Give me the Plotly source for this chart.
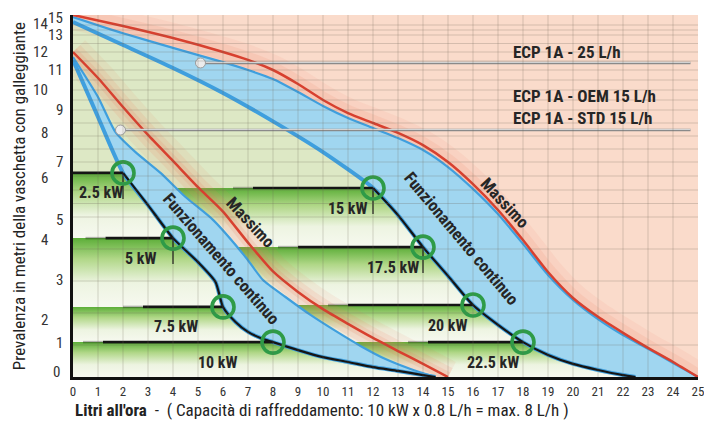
import numpy as np
import plotly.graph_objects as go

# ---------------- data (flow in L/h, head in metres) ----------------
# small pump family (ECP 1A - OEM / STD 15 L/h)
FLOW_MAX_A = [0, 1, 2, 3, 4, 5, 6, 7, 8, 9, 10, 11, 12, 13, 14, 15]
HEAD_MAX_A = [12.0, 10.6, 9.15, 8.04, 7.04, 6.1, 5.2, 4.2, 3.3, 2.66, 2.12, 1.66, 1.22, 0.81, 0.41, 0]
FLOW_CONT_TOP_A = [0, 1, 1.7, 2.5, 3.5, 4.5, 5.6, 6.9, 7.6, 8.5, 9.5, 10.5, 11.5, 12.5, 13.5, 14.5]
HEAD_CONT_TOP_A = [11.72, 9.65, 8.15, 7.38, 6.61, 5.74, 4.91, 3.75, 3.03, 2.5, 1.94, 1.44, 0.97, 0.56, 0.25, 0]
FLOW_CONT_A = [0, 1, 2, 3, 4, 5, 5.7, 6, 6.5, 7, 7.5, 8, 9, 10, 11, 12, 13, 14, 14.5]
HEAD_CONT_A = [11.56, 8.73, 6.61, 5.44, 4.34, 3.59, 2.97, 2.19, 1.72, 1.41, 1.22, 1.09, 0.84, 0.62, 0.47, 0.31, 0.19, 0.06, 0]

# big pump family (ECP 1A - 25 L/h)
FLOW_MAX_B = [0, 2, 4, 6, 7, 8, 9, 10, 11, 12, 13, 14, 15, 16, 17, 18, 19, 20, 21, 22, 23, 24, 25]
HEAD_MAX_B = [15, 13.9, 12.82, 12.0, 11.56, 11.0, 10.3, 9.5, 8.88, 8.5, 8.12, 7.65, 7.0, 6.21, 5.26, 4.28, 3.28, 2.47, 1.88, 1.38, 0.91, 0.47, 0]
FLOW_CONT_TOP_B = [0, 2, 4, 6, 7, 8, 9, 10, 11, 12, 13, 14, 15, 16, 17, 18, 19, 20, 21, 22, 23, 24, 25]
HEAD_CONT_TOP_B = [14.8, 13.17, 12.24, 11.44, 11.0, 10.55, 9.9, 9.2, 8.69, 8.31, 7.92, 7.46, 6.82, 6.04, 5.11, 4.16, 3.19, 2.41, 1.81, 1.31, 0.88, 0.44, 0]
FLOW_CONT_B = [0, 2, 4, 6, 7.9, 10, 12, 13, 14, 15, 16, 17, 18, 19, 20, 21, 22, 22.5]
HEAD_CONT_B = [14.3, 12.41, 11.11, 9.85, 8.62, 7.38, 6.07, 5.07, 4.06, 3.16, 2.25, 1.63, 1.09, 0.69, 0.41, 0.22, 0.06, 0]

# cooling-power operating points
POWER_LABELS = ["2.5 kW", "5 kW", "7.5 kW", "10 kW", "15 kW", "17.5 kW", "20 kW", "22.5 kW"]
POWER_FLOW = [2, 4, 6, 8, 12, 14, 16, 18]
POWER_HEAD = [6.61, 4.34, 2.19, 1.09, 6.07, 4.06, 2.25, 1.09]
POWER_FAMILY = ["A", "A", "A", "A", "B", "B", "B", "B"]
STEP_START_FLOW = [0, 1.3, 2.8, 1.2, 7.2, 9.0, 11.0, 14.2]
DROP_MARK = [True, True, False, False, True, True, False, False]

# pump model leaders
MODEL_LABELS = ["ECP 1A - 25 L/h", "ECP 1A - OEM 15 L/h", "ECP 1A - STD 15 L/h"]
LEADER_FLOW = [5.1, 1.9]
LEADER_HEAD = [11.39, 8.23]

# axis ticks
X_TICKS = list(range(0, 26))
HEAD_TICKS = list(range(0, 16))

# ---------------- layout / style helpers ----------------
# vertical scale of the original (non-uniform spacing of head labels)
HEAD_POS = [0, 32, 64, 96, 128, 160, 187, 215, 241, 267, 287, 307, 325, 342, 352, 362]
LABEL_YSHIFT = [5, 2, -7, 1, 9, -3, 12, 0, 3, 0, 0, 0, 0, 0, 1, -3]
LABEL_XSHIFT = [-11, -8, -23, -8, -23, -8, -23, -8, -23, -8, -23, -8, -23, -8, -23, -8]
KW_LABEL_FLOW = [1.1, 2.7, 4.1, 5.8, 11.0, 12.8, 15.0, 16.8]
MODEL_LABEL_FLOW = 17.5
MODEL_LABEL_HEAD = [12.0, 9.7, 8.69]
LEADER_END = 24.7

FONT = "Liberation Sans Narrow, Arial Narrow, Roboto Condensed, DejaVu Sans Condensed, Roboto, sans-serif"
PEACH = "#FADBCB"
BLUE_FILL = "#A0D6F0"
BLUE_LINE = "#3F9FDE"
RED_LINE = "#D8402F"
GREEN_RING = "#2E9B47"
BG_GREEN = "#DDE8C5"
TXT = "#262626"


def Y(h):
    return np.interp(np.asarray(h, dtype=float), HEAD_TICKS, HEAD_POS)


fig = go.Figure()


def add_poly(xs, ys, **kw):
    fig.add_trace(go.Scatter(x=xs, y=ys, mode="lines", fill="toself", line=dict(width=0),
                             hoverinfo="skip", **kw))


def add_line(xs, ys, color, width):
    fig.add_trace(go.Scatter(x=xs, y=ys, mode="lines",
                             line=dict(color=color, width=width, shape="spline", smoothing=0.6),
                             hoverinfo="skip"))


def band_polygon(flow, head, top, bottom, x_left):
    f = np.array(flow, float)
    h = np.array(head, float)
    x_top = np.interp(top, h[::-1], f[::-1])
    x_bot = np.interp(bottom, h[::-1], f[::-1])
    m = (h < top) & (h > bottom)
    xs = [x_left, x_top] + list(f[m]) + [x_bot, x_left]
    hs = [top, top] + list(h[m]) + [bottom, bottom]
    return xs, Y(hs)


GREEN_SCALE = [[0, "#F7F9F0"], [0.35, "#EDF4E1"], [0.7, "#B0D787"], [1, "#5CAE38"]]

# peach region above the 25 L/h continuous band
add_poly(FLOW_CONT_TOP_B + [25, 0], list(Y(HEAD_CONT_TOP_B)) + [Y(15), Y(15)], fillcolor=PEACH)
for w, a in [(30, 0.08), (16, 0.12)]:
    add_line(FLOW_MAX_B, Y(HEAD_MAX_B), f"rgba(238,120,90,{a})", w)

# green step bands
for fam, flow, head in [("B", FLOW_CONT_B, HEAD_CONT_B), ("A", FLOW_CONT_A, HEAD_CONT_A)]:
    idx = [i for i, f in enumerate(POWER_FAMILY) if f == fam]
    for j, i in enumerate(idx):
        top = POWER_HEAD[i]
        bottom = POWER_HEAD[idx[j + 1]] if j + 1 < len(idx) else 0
        xs, ys = band_polygon(flow, head, top, bottom, 0)
        add_poly(xs, ys, fillgradient=dict(type="vertical", colorscale=GREEN_SCALE))

# glow around the small pump maximum curve
for w, a in [(34, 0.09), (20, 0.13), (10, 0.15)]:
    add_line(FLOW_MAX_A, Y(HEAD_MAX_A), f"rgba(238,120,90,{a})", w)

# continuous-operation bands
add_poly(FLOW_CONT_TOP_B + FLOW_CONT_B[::-1], list(Y(HEAD_CONT_TOP_B)) + list(Y(HEAD_CONT_B[::-1])), fillcolor=BLUE_FILL)
add_poly(FLOW_CONT_TOP_A + FLOW_CONT_A[::-1], list(Y(HEAD_CONT_TOP_A)) + list(Y(HEAD_CONT_A[::-1])), fillcolor=BLUE_FILL)

# curve edges
add_line(FLOW_CONT_TOP_B, Y(HEAD_CONT_TOP_B), BLUE_LINE, 2.2)
add_line(FLOW_CONT_TOP_A, Y(HEAD_CONT_TOP_A), BLUE_LINE, 2.2)
add_line(FLOW_CONT_B, Y(HEAD_CONT_B), BLUE_LINE, 4)
add_line(FLOW_CONT_A, Y(HEAD_CONT_A), BLUE_LINE, 4)
add_line(FLOW_MAX_B, Y(HEAD_MAX_B), RED_LINE, 2.5)
add_line(FLOW_MAX_A, Y(HEAD_MAX_A), RED_LINE, 2.5)

for flow, head, start in [(FLOW_CONT_A, HEAD_CONT_A, POWER_FLOW[0]), (FLOW_CONT_B, HEAD_CONT_B, POWER_FLOW[4])]:
    f = np.array(flow)
    m = f >= start
    add_line(list(f[m]), Y(np.array(head)[m]), "#151515", 2.2)

# horizontal step lines (+ small drop marks under some rings)
for x0, x1, h, drop in zip(STEP_START_FLOW, POWER_FLOW, POWER_HEAD, DROP_MARK):
    yy = float(Y(h))
    fig.add_trace(go.Scatter(x=[x0 - 0.8, x0], y=[yy, yy], mode="lines",
                             line=dict(color="rgba(20,20,20,0.3)", width=2.5), hoverinfo="skip"))
    fig.add_trace(go.Scatter(x=[x0, x1], y=[yy, yy], mode="lines",
                             line=dict(color="#151515", width=2.6), hoverinfo="skip"))
    if drop:
        fig.add_trace(go.Scatter(x=[x1, x1], y=[yy, yy - 26], mode="lines",
                                 line=dict(color="rgba(20,20,20,0.75)", width=1.6), hoverinfo="skip"))

# model leader lines
for f, h in zip(LEADER_FLOW, LEADER_HEAD):
    yy = float(Y(h))
    fig.add_trace(go.Scatter(x=[f, LEADER_END], y=[yy, yy], mode="lines",
                             line=dict(color="#8a8a8a", width=2.6), hoverinfo="skip"))
    fig.add_trace(go.Scatter(x=[f, LEADER_END], y=[yy + 0.6, yy + 0.6], mode="lines",
                             line=dict(color="#dcdcdc", width=1), hoverinfo="skip"))
fig.add_trace(go.Scatter(x=LEADER_FLOW, y=Y(LEADER_HEAD), mode="markers",
                         marker=dict(size=10, color="#ececec", line=dict(color="#9a9a9a", width=1)),
                         hoverinfo="skip"))

# operating point rings
fig.add_trace(go.Scatter(x=POWER_FLOW, y=Y(POWER_HEAD), mode="markers",
                         marker=dict(symbol="circle-open", size=22, color=GREEN_RING, line=dict(width=3.6)),
                         hoverinfo="skip"))

# grid drawn over the artwork
GRID = "rgba(110,100,90,0.26)"
for k in range(1, 25):
    fig.add_shape(type="line", x0=k, x1=k, y0=0, y1=float(Y(15)), xref="x", yref="y",
                  line=dict(color=GRID, width=1), layer="above")
grid_heads = list(range(1, 15)) + [m + 0.5 for m in range(5, 14)]
for g in grid_heads:
    yy = float(Y(g))
    fig.add_shape(type="line", x0=0, x1=25, y0=yy, y1=yy, xref="x", yref="y",
                  line=dict(color=GRID, width=1), layer="above")

ann = []
# y tick labels (two staggered columns as in the original)
for m, ys, xs in zip(HEAD_TICKS, LABEL_YSHIFT, LABEL_XSHIFT):
    ann.append(dict(text=str(m), x=0, xref="paper", y=float(Y(m)), yref="y", xanchor="right",
                    yanchor="middle", xshift=xs, yshift=ys, showarrow=False,
                    font=dict(family=FONT, size=15, color="#333")))
# power labels
for t, fx, h in zip(POWER_LABELS, KW_LABEL_FLOW, POWER_HEAD):
    ann.append(dict(text=f"<b>{t}</b>", x=fx, y=float(Y(h)), yshift=-20, showarrow=False,
                    font=dict(family=FONT, size=16, color=TXT)))
# model labels
for t, h in zip(MODEL_LABELS, MODEL_LABEL_HEAD):
    ann.append(dict(text=f"<b>{t}</b>", x=MODEL_LABEL_FLOW, y=float(Y(h)), xanchor="left",
                    showarrow=False, font=dict(family=FONT, size=17, color=TXT)))
# curve captions
for t, fx, h, ang in [("Funzionamento continuo", 5.95, 3.7, 49), ("Massimo", 7.1, 4.85, 47),
                      ("Funzionamento continuo", 15.52, 4.34, 50), ("Massimo", 17.28, 5.52, 47)]:
    ann.append(dict(text=f"<b>{t}</b>", x=fx, y=float(Y(h)), textangle=ang, showarrow=False,
                    font=dict(family=FONT, size=17, color=TXT)))
# axis titles
ann.append(dict(text="Prevalenza in metri della vaschetta con galleggiante", x=-0.086, xref="paper",
                xanchor="center", y=0.5, yref="paper", yanchor="middle", textangle=-90, showarrow=False,
                font=dict(family=FONT, size=17, color="#222")))
ann.append(dict(text="<b>Litri all'ora</b>  -  ( Capacità di raffreddamento: 10 kW x 0.8 L/h = max. 8 L/h )",
                x=0, xref="paper", xanchor="left", y=-0.092, yref="paper", yanchor="middle",
                showarrow=False, font=dict(family=FONT, size=17, color="#222")))

# the page body adds an 8 px offset, so the figure is sized to the remaining window
fig.update_layout(
    width=704, height=413,
    margin=dict(l=65, r=14, t=7, b=44),
    paper_bgcolor="white", plot_bgcolor=BG_GREEN,
    showlegend=False,
    annotations=ann,
    xaxis=dict(range=[0, 25], tickvals=X_TICKS, ticktext=[str(v) for v in X_TICKS],
               showgrid=False, zeroline=False, showline=True, linecolor="#111", linewidth=3,
               ticks="", tickfont=dict(family=FONT, size=13, color="#333"), fixedrange=True),
    yaxis=dict(range=[0, float(Y(15))], showgrid=False, zeroline=False, showline=True,
               linecolor="#111", linewidth=3, showticklabels=False, ticks="", fixedrange=True),
)

fig.write_html("out.html")
